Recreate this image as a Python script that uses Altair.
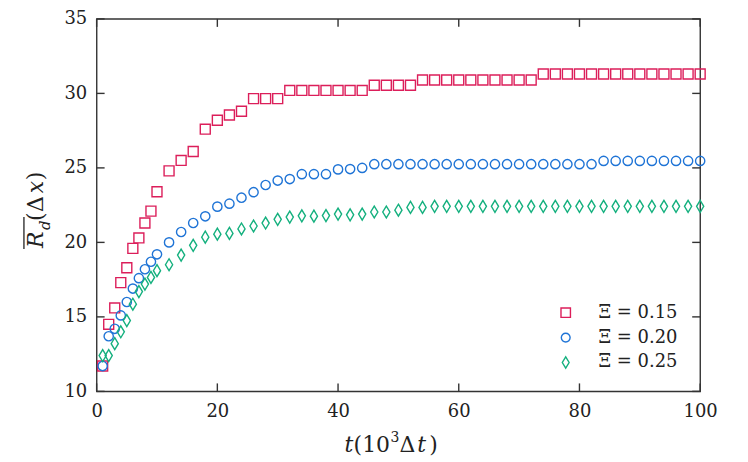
import altair as alt
import pandas as pd

# ---------------- data ----------------
t_vals = list(range(1, 11)) + list(range(12, 101, 2))

xi015 = [11.7, 14.5, 15.6, 17.3, 18.3, 19.6, 20.3, 21.3, 22.1, 23.4,
         24.8, 25.5, 26.1, 27.6, 28.2, 28.55, 28.8,
         29.65, 29.65, 29.65,
         30.2, 30.2, 30.2, 30.2, 30.2, 30.2, 30.2,
         30.55, 30.55, 30.55, 30.55,
         30.9, 30.9, 30.9, 30.9, 30.9, 30.9, 30.9, 30.9, 30.9, 30.9,
         31.3, 31.3, 31.3, 31.3, 31.3, 31.3, 31.3, 31.3, 31.3, 31.3, 31.3, 31.3, 31.3, 31.3]

xi020 = [11.7, 13.7, 14.2, 15.1, 16.0, 16.9, 17.6, 18.2, 18.7, 19.2,
         20.0, 20.7, 21.3, 21.75, 22.4, 22.6, 23.0, 23.37, 23.85, 24.15,
         24.25, 24.58, 24.58, 24.58, 24.9, 24.92, 25.0,
         25.25, 25.25, 25.25, 25.25, 25.25, 25.25, 25.25, 25.25, 25.25, 25.25,
         25.25, 25.25, 25.25, 25.25, 25.25, 25.25, 25.25, 25.25, 25.25,
         25.47, 25.47, 25.47, 25.47, 25.47, 25.47, 25.47, 25.47, 25.47]

xi025 = [12.4, 12.4, 13.2, 14.0, 14.75, 15.85, 16.7, 17.2, 17.65, 18.1,
         18.5, 19.15, 19.8, 20.35, 20.55, 20.6, 20.9, 21.1, 21.3, 21.55,
         21.7, 21.78, 21.76, 21.8, 21.9, 21.85, 21.9, 22.04, 22.04, 22.16,
         22.35, 22.35,
         22.42, 22.42, 22.42, 22.42, 22.42, 22.42, 22.42, 22.42, 22.42, 22.42,
         22.42, 22.42, 22.42, 22.42, 22.42, 22.42, 22.42, 22.42, 22.42, 22.42,
         22.42, 22.42, 22.42]

series_labels = ["Ξ = 0.15", "Ξ = 0.20", "Ξ = 0.25"]
series_colors = ["#dc1e5a", "#1f74d6", "#14b07e"]
x_ticks = [0, 20, 40, 60, 80, 100]
y_ticks = [10, 15, 20, 25, 30, 35]
x_title_parts = ["t", "(10", "3", "Δ", "t", ")"]
y_title_parts = ["R", "d", "(", "Δ", "x", ")"]

rows = []
for lab, vals in zip(series_labels, [xi015, xi020, xi025]):
    for t, v in zip(t_vals, vals):
        rows.append({"t": t, "R": v, "series": lab})
df = pd.DataFrame(rows)

# ---------------- style ----------------
W, H = 606, 374
FONT = "DejaVu Serif"
INK = "#222222"
FRAME = "#333333"
# custom symbol paths (unit = sqrt(size)/2 px)
square_path = "M-1,-1L1,-1L1,1L-1,1Z"
circle_path = "M0.93,0A0.93,0.93,0,1,1,-0.93,0A0.93,0.93,0,1,1,0.93,0Z"
diamond_path = "M0,-1.2L0.72,0L0,1.2L-0.72,0Z"

xscale = alt.Scale(domain=[0, 100], nice=False, zero=False)
yscale = alt.Scale(domain=[10, 35], nice=False, zero=False)

axis_common = dict(title=None, ticks=False, domain=False, grid=False, labelFlush=False,
                   labelFont=FONT, labelFontSize=18, labelColor=INK)
x_axis = alt.Axis(values=x_ticks, labelPadding=11, **axis_common)
y_axis = alt.Axis(values=y_ticks, labelPadding=10, **axis_common)

legend = alt.Legend(title=None, orient="none", legendX=462, legendY=286,
                    labelFont=FONT, labelFontSize=18, labelColor=INK,
                    labelOffset=24, rowPadding=7, padding=0,
                    symbolSize=90, symbolStrokeWidth=1.4)

points = alt.Chart(df).mark_point(filled=False, strokeWidth=1.4, opacity=1, size=100).encode(
    x=alt.X("t:Q", scale=xscale, axis=x_axis),
    y=alt.Y("R:Q", scale=yscale, axis=y_axis),
    color=alt.Color("series:N", scale=alt.Scale(domain=series_labels, range=series_colors), legend=legend),
    shape=alt.Shape("series:N", scale=alt.Scale(domain=series_labels,
                                                range=[square_path, circle_path, diamond_path]), legend=legend),
)

xt = pd.DataFrame({"t": x_ticks})
yt = pd.DataFrame({"R": y_ticks})
TL = 8
tick_style = dict(color=FRAME, strokeWidth=1.4)
tick_bottom = alt.Chart(xt).mark_rule(**tick_style).encode(
    x=alt.X("t:Q", scale=xscale, axis=x_axis), y=alt.value(H - TL), y2=alt.value(H))
tick_top = alt.Chart(xt).mark_rule(**tick_style).encode(
    x=alt.X("t:Q", scale=xscale, axis=x_axis), y=alt.value(0), y2=alt.value(TL))
tick_left = alt.Chart(yt).mark_rule(**tick_style).encode(
    y=alt.Y("R:Q", scale=yscale, axis=y_axis), x=alt.value(0), x2=alt.value(TL))
tick_right = alt.Chart(yt).mark_rule(**tick_style).encode(
    y=alt.Y("R:Q", scale=yscale, axis=y_axis), x=alt.value(W - TL), x2=alt.value(W))


def txt(s, x, y, size=22, style="normal", angle=0):
    return alt.Chart(pd.DataFrame({"s": [s]})).mark_text(
        font=FONT, fontSize=size, fontStyle=style, align="left",
        baseline="alphabetic", angle=angle, color=INK
    ).encode(x=alt.value(x), y=alt.value(y), text="s:N")


# x title: t(10^3 Δt)
xb = 435
x_title = [
    txt(x_title_parts[0], 249, xb, style="italic"),
    txt(x_title_parts[1], 258, xb),
    txt(x_title_parts[2], 295, xb - 10, size=14),
    txt(x_title_parts[3], 304, xb),
    txt(x_title_parts[4], 322, xb, style="italic"),
    txt(x_title_parts[5], 334, xb),
]

# y title: overline R_d (Δx), rotated
yb = -54
y_title = [
    txt(y_title_parts[0], yb, 230, style="italic", angle=270),
    txt(y_title_parts[1], yb + 7, 212, size=15, style="italic", angle=270),
    txt(y_title_parts[2], yb, 203, angle=270),
    txt(y_title_parts[3], yb, 194, angle=270),
    txt(y_title_parts[4], yb, 175, style="italic", angle=270),
    txt(y_title_parts[5], yb, 162, angle=270),
]
overline = alt.Chart(pd.DataFrame({"a": [0]})).mark_rule(color=INK, strokeWidth=1.3).encode(
    x=alt.value(-73), y=alt.value(199), y2=alt.value(231))

chart = alt.layer(
    points, tick_bottom, tick_top, tick_left, tick_right, overline, *x_title, *y_title
).properties(
    width=W, height=H,
    padding={"left": 89, "top": 10, "right": 40, "bottom": 80},
    autosize=alt.AutoSizeParams(type="none"),
).configure_view(stroke=FRAME, strokeWidth=1.4)

chart.save("out.html", embed_options={"renderer": "svg", "actions": False})
